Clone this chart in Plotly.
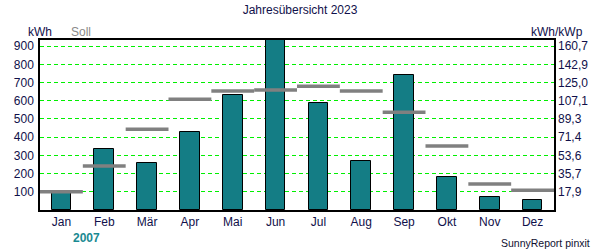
import plotly.graph_objects as go

months = ["Jan", "Feb", "Mär", "Apr", "Mai", "Jun", "Jul", "Aug", "Sep", "Okt", "Nov", "Dez"]
ist_kwh = [95, 333, 257, 427, 632, 940, 586, 268, 740, 180, 70, 53]
soll_kwh = [100, 242, 443, 608, 654, 659, 680, 654, 537, 352, 143, 108]
kwp = 5.6
left_ticks = [100, 200, 300, 400, 500, 600, 700, 800, 900]
right_tick_text = ["17,9", "35,7", "53,6", "71,4", "89,3", "107,1", "125,0", "142,9", "160,7"]
y_max = 934

x_idx = list(range(len(months)))

font_col = "#10104a"
fig = go.Figure()

fig.add_trace(go.Bar(
    x=x_idx, y=ist_kwh, width=0.46,
    marker=dict(color="#147d85", line=dict(color="black", width=1)),
    showlegend=False, hoverinfo="skip",
))

sx, sy = [], []
for i, v in enumerate(soll_kwh):
    sx += [i - 0.5, i + 0.5, None]
    sy += [v, v, None]
fig.add_trace(go.Scatter(
    x=sx, y=sy, mode="lines",
    line=dict(color="#808080", width=3.5),
    showlegend=False, hoverinfo="skip", cliponaxis=False,
))

fig.add_trace(go.Scatter(
    x=x_idx, y=[v / kwp for v in ist_kwh], yaxis="y2",
    mode="markers", marker=dict(opacity=0), showlegend=False, hoverinfo="skip",
))

fig.update_layout(
    width=600, height=250,
    margin=dict(l=40, r=41, t=40, b=40),
    plot_bgcolor="white", paper_bgcolor="white",
    font=dict(family="Liberation Sans, Arial", size=12, color=font_col),
    bargap=0,
    xaxis=dict(
        range=[-0.5, 11.5], tickvals=x_idx, ticktext=months,
        showgrid=False, zeroline=False, showline=True, linecolor="black",
        linewidth=1.5, mirror=True, ticks="", ticklen=0,
        tickfont=dict(size=12, color=font_col),
    ),
    yaxis=dict(
        range=[0, y_max], tickvals=left_ticks,
        showgrid=True, gridcolor="#00f000", griddash="4px,3px", gridwidth=1,
        zeroline=False, showline=True, linecolor="black", linewidth=1.5,
        mirror=True, ticks="", ticklen=0, ticklabelstandoff=2,
        tickfont=dict(size=12, color=font_col),
    ),
    yaxis2=dict(
        overlaying="y", side="right", range=[0, y_max / kwp],
        tickvals=[t / kwp for t in left_ticks], ticktext=right_tick_text,
        showgrid=False, zeroline=False, showline=False, ticks="",
        ticklabelstandoff=3,
        tickfont=dict(size=12, color=font_col),
    ),
    title=dict(text="Jahresübersicht 2023", x=0.5, xanchor="center",
               y=0.96, yanchor="middle", font=dict(size=12, color=font_col)),
)

fig.add_annotation(text="kWh", xref="paper", yref="paper", x=0.0, y=1.0,
                   xanchor="center", yanchor="bottom", yshift=-1, showarrow=False,
                   font=dict(size=12, color=font_col))
fig.add_annotation(text="Soll", xref="paper", yref="paper", x=0.079, y=1.0,
                   xanchor="center", yanchor="bottom", yshift=-1, showarrow=False,
                   font=dict(size=12, color="#8a8a8a"))
fig.add_annotation(text="kWh/kWp", xref="paper", yref="paper", x=1.06, y=1.0,
                   xanchor="right", yanchor="bottom", yshift=-1, showarrow=False,
                   font=dict(size=12, color=font_col))
fig.add_annotation(text="<b>2007</b>", xref="paper", yref="paper", x=0.0906, y=-0.165,
                   xanchor="center", yanchor="middle", showarrow=False,
                   font=dict(size=12, color="#1a8a92"))
fig.add_annotation(text="SunnyReport pinxit", xref="paper", yref="paper", x=1.073, y=-0.194,
                   xanchor="right", yanchor="middle", showarrow=False,
                   font=dict(size=10.5, color="#101030"))

fig.write_html("out.html")
